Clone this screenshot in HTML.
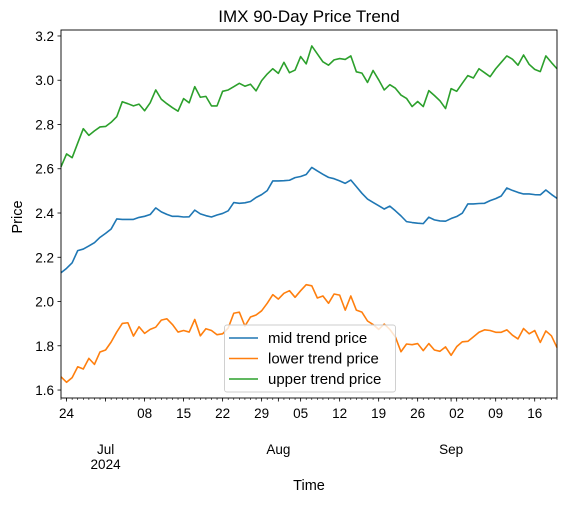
<!DOCTYPE html>
<html><head><meta charset="utf-8"><style>
body{margin:0;background:#fff}
svg text{font-family:"Liberation Sans","DejaVu Sans",sans-serif;fill:#000}
</style></head><body>
<svg id="chart" width="567" height="501" viewBox="0 0 567 501" xmlns="http://www.w3.org/2000/svg">
<text x="309" y="22" font-size="17" text-anchor="middle">IMX 90-Day Price Trend</text>
<g id="plot"></g>
<text x="309" y="490" font-size="14.5" text-anchor="middle">Time</text>
<text x="22" y="217" font-size="14.5" text-anchor="middle" transform="rotate(-90 22 217)">Price</text>
</svg>
<script>
const startDate = [2024, 5, 23];
const mid = [2.130,2.150,2.175,2.230,2.237,2.251,2.266,2.290,2.308,2.328,2.373,2.371,2.371,2.371,2.380,2.385,2.393,2.423,2.405,2.394,2.385,2.385,2.382,2.383,2.413,2.396,2.388,2.382,2.391,2.398,2.410,2.447,2.444,2.446,2.452,2.470,2.483,2.501,2.545,2.545,2.546,2.548,2.560,2.565,2.574,2.606,2.590,2.575,2.561,2.555,2.545,2.534,2.549,2.519,2.489,2.463,2.448,2.433,2.418,2.431,2.410,2.387,2.361,2.357,2.354,2.352,2.381,2.369,2.364,2.363,2.375,2.384,2.399,2.441,2.441,2.443,2.444,2.456,2.465,2.477,2.513,2.502,2.493,2.486,2.486,2.483,2.482,2.504,2.484,2.466];
const lower = [1.660,1.635,1.656,1.705,1.695,1.743,1.716,1.772,1.781,1.817,1.862,1.901,1.904,1.844,1.886,1.856,1.874,1.884,1.916,1.922,1.896,1.862,1.869,1.862,1.919,1.845,1.877,1.869,1.850,1.854,1.880,1.947,1.952,1.889,1.930,1.939,1.958,1.992,2.031,2.011,2.037,2.049,2.019,2.049,2.076,2.071,2.016,2.025,1.992,2.034,2.029,1.961,2.025,1.961,1.952,1.912,1.896,1.874,1.898,1.874,1.840,1.773,1.808,1.805,1.810,1.778,1.810,1.781,1.775,1.795,1.757,1.796,1.818,1.820,1.840,1.861,1.872,1.869,1.861,1.861,1.872,1.848,1.831,1.878,1.854,1.869,1.815,1.867,1.845,1.792];
const upper = [2.609,2.667,2.650,2.716,2.781,2.751,2.771,2.789,2.791,2.810,2.835,2.903,2.894,2.884,2.892,2.862,2.898,2.956,2.914,2.894,2.876,2.860,2.917,2.898,2.971,2.923,2.927,2.884,2.884,2.950,2.956,2.971,2.986,2.973,2.982,2.952,2.998,3.028,3.052,3.031,3.081,3.034,3.046,3.107,3.074,3.155,3.119,3.083,3.068,3.092,3.098,3.094,3.110,3.038,3.032,2.990,3.044,3.002,2.956,2.980,2.964,2.933,2.918,2.881,2.904,2.881,2.953,2.931,2.907,2.872,2.962,2.950,2.986,3.021,3.010,3.052,3.034,3.016,3.052,3.081,3.110,3.095,3.068,3.114,3.072,3.049,3.039,3.110,3.080,3.052];
const yTicks = [1.6,1.8,2.0,2.2,2.4,2.6,2.8,3.0,3.2];
const dayTicks = [[1,"24"],[15,"08"],[22,"15"],[29,"22"],[36,"29"],[43,"05"],[50,"12"],[57,"19"],[64,"26"],[71,"02"],[78,"09"],[85,"16"]];
const monthTicks = [[8,"Jul","2024"],[39,"Aug",""],[70,"Sep",""]];

const L=61,R=557,T=30,B=398;
const ns="http://www.w3.org/2000/svg";
const g=document.getElementById('plot');
const nDays=mid.length-1;
function xs(i){return L+(R-L)*i/nDays;}
const yMin=1.564,yMax=3.227;
function ys(v){return B-(v-yMin)/(yMax-yMin)*(B-T);}
function mk(tag,attrs,parent){const e=document.createElementNS(ns,tag);for(const k in attrs)e.setAttribute(k,attrs[k]);(parent||g).appendChild(e);return e;}

yTicks.forEach(v=>{
  const y=ys(v);
  const t=mk('line',{x1:L-3.5,x2:L,y1:y,y2:y,stroke:'#000','stroke-width':0.8});
  
  
  const tx=mk('text',{x:L-7,y:y+5,'font-size':13.5,'text-anchor':'end'});
  
  
  tx.textContent=v.toFixed(1);
});
for(let i=0;i<=nDays;i++){
  const t=mk('line',{x1:xs(i),x2:xs(i),y1:B,y2:B+2,stroke:'#000','stroke-width':0.6});
  
  
}
dayTicks.forEach(d=>{
  const x=xs(d[0]);
  const t=mk('line',{x1:x,x2:x,y1:B,y2:B+3.5,stroke:'#000','stroke-width':0.8});
  
  
  const tx=mk('text',{x:x,y:B+20,'font-size':13.5,'text-anchor':'middle'});
  
  
  tx.textContent=d[1];
});
monthTicks.forEach(m=>{
  const x=xs(m[0]);
  const t=mk('line',{x1:x,x2:x,y1:B,y2:B+3.5,stroke:'#000','stroke-width':0.8});
  
  
  const tx=mk('text',{x:x,y:B+56,'font-size':13.5,'text-anchor':'middle'});
  
  
  tx.textContent=m[1];
  if(m[2]){
    const ty=mk('text',{x:x,y:B+71,'font-size':13.5,'text-anchor':'middle'});
    
    
    ty.textContent=m[2];
  }
});
const series=[[mid,'#1f77b4','mid-trend-line'],[lower,'#ff7f0e','lower-trend-line'],[upper,'#2ca02c','upper-trend-line']];
series.forEach(s=>{
  const pts=s[0].map((v,i)=>xs(i).toFixed(2)+','+ys(v).toFixed(2)).join(' ');
  const p=mk('polyline',{points:pts,fill:'none',stroke:s[1],'stroke-width':1.6,'stroke-linejoin':'round'});
  
  
});
const fr=mk('rect',{x:L,y:T,width:R-L,height:B-T,fill:'none',stroke:'#000','stroke-width':0.9});


const lg=mk('g',{});


mk('rect',{x:224.5,y:325,width:171,height:67,rx:2.5,fill:'#fff','fill-opacity':0.8,stroke:'#ccc','stroke-width':0.9},lg);
const names=['mid trend price','lower trend price','upper trend price'];
names.forEach((n,i)=>{
  const y=338+i*20.5;
  const ln=mk('line',{x1:229,x2:258,y1:y,y2:y,stroke:series[i][1],'stroke-width':1.6},lg);
  
  
  const tx=mk('text',{x:268,y:y+5,'font-size':15},lg);
  
  
  tx.textContent=n;
});
</script>
</body></html>
